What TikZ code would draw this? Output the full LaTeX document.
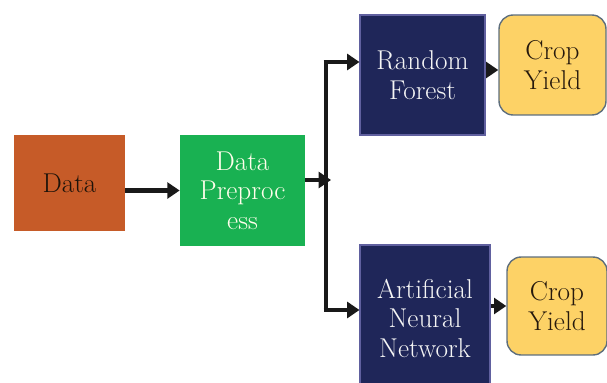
\documentclass[tikz,border=0pt]{standalone}
\usetikzlibrary{arrows.meta}
\definecolor{dataorange}{HTML}{C65B28}
\definecolor{prepgreen}{HTML}{19B152}
\definecolor{modelnavy}{HTML}{1F2659}
\definecolor{yieldyellow}{HTML}{FDD266}
\definecolor{yieldedge}{HTML}{5E6E7C}
\tikzset{
  blk/.style={inner sep=2pt, align=center, font=\fontsize{15.5}{16.8}\selectfont},
  datablk/.style={blk, fill=dataorange, text=black!85!brown},
  prepblk/.style={blk, fill=prepgreen, text=white!92!yellow},
  modelblk/.style={blk, fill=modelnavy, draw=blue!25!gray, line width=0.6pt, text=white!92!gray},
  yieldblk/.style={blk, fill=yieldyellow, draw=yieldedge, line width=0.8pt, rounded corners=8pt, text=black!80!brown},
  line/.style={line width=2.8pt, black!90},
  arr/.style={line, -{Triangle[length=7pt,width=9pt]}}
}
\begin{document}
\begin{tikzpicture}[x=0.02cm,y=-0.02cm]
  \useasboundingbox (0,0) rectangle (607,382);
  \clip (0,0) rectangle (607,382);
  % blocks
  \node[datablk, minimum width=2.22cm, minimum height=1.92cm] (data) at (69.5,183) {Data};
  \node[prepblk, minimum width=2.5cm, minimum height=2.22cm] (prep) at (242.5,190.5) {Data\\Preproc\\ess};
  \node[modelblk, minimum width=2.5cm, minimum height=2.4cm] (rf) at (422.5,75) {Random\\Forest};
  \node[modelblk, minimum width=2.6cm, minimum height=2.92cm] (ann) at (425,318) {Artificial\\Neural\\Network};
  \node[yieldblk, minimum width=2.14cm, minimum height=2cm] (cy1) at (552.5,65) {Crop\\Yield};
  \node[yieldblk, minimum width=2cm, minimum height=1.96cm] (cy2) at (557,306) {Crop\\Yield};
  % split point
  \coordinate (jn) at (331,180);
  \coordinate (jtop) at (326,62);
  \coordinate (jbot) at (326,310);
  % connectors
  \draw[arr] (data.east |- prep) -- (prep);
  \draw[arr] (prep.east |- jn) -- (jn);
  \draw[line] (jtop) -- (jbot);
  \draw[arr] ([xshift=-1.4pt]jtop) -- (rf.west |- jtop);
  \draw[arr] ([xshift=-1.4pt]jbot) -- (ann.west |- jbot);
  \draw[arr] (rf.east |- 0,70) -- (cy1.west |- 0,70);
  \draw[arr] (ann.east |- cy2) -- (cy2);
\end{tikzpicture}
\end{document}
